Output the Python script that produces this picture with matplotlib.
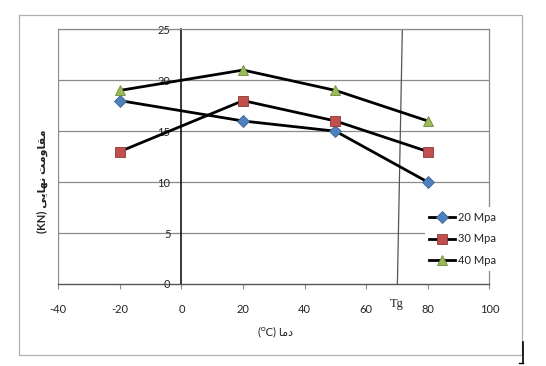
import matplotlib
matplotlib.use("Agg")
import matplotlib.pyplot as plt
from matplotlib.lines import Line2D
from matplotlib.patches import Rectangle

# ---- data ----
temps = [-20, 20, 50, 80]
s20 = [18, 16, 15, 10]
s30 = [13, 18, 16, 13]
s40 = [19, 21, 19, 16]
series_labels = ["20 Mpa", "30 Mpa", "40 Mpa"]
x_ticks = [-40, -20, 0, 20, 40, 60, 80, 100]
y_ticks = [0, 5, 10, 15, 20, 25]
tg_value = 70
tg_line_x = [71.7, 70.1]

# Persian text in visual order with presentation forms (matplotlib has no shaping)
ylabel_txt = "(KN) " + "\uFEF0\uFEF3\uFE8E\uFEEC\uFEE7" + " " + "\uFE96\uFEE3\uFEED\uFE8E\uFED8\uFEE3"
xlabel_txt = "(\u1D3CC) " + "\uFE8E\uFEE3\uFEA9"

plt.rcParams['font.family'] = ['Lato', 'DejaVu Sans']

W, H = 546, 366
fig = plt.figure(figsize=(W / 100, H / 100), dpi=100)
fig.patch.set_facecolor("white")

L, R, T, B = 58.3, 489.5, 29.3, 284.0
ax = fig.add_axes([L / W, 1 - B / H, (R - L) / W, (B - T) / H])
ax.set_xlim(-40, 100)
ax.set_ylim(0, 25)

grid_c = "#8a8a8a"
for v in y_ticks[1:]:
    ax.axhline(v, color=grid_c, lw=0.9, zorder=1)
ax.axvline(-40, color=grid_c, lw=0.9, zorder=1)

# y axis crossing at x = 0
ax.spines['left'].set_position(('data', 0))
ax.spines['left'].set_color("black")
ax.spines['left'].set_linewidth(1.1)
ax.spines['bottom'].set_color("#555555")
ax.spines['bottom'].set_linewidth(1.0)
ax.spines['top'].set_color(grid_c)
ax.spines['top'].set_linewidth(0.9)
ax.spines['right'].set_color(grid_c)
ax.spines['right'].set_linewidth(0.9)

ax.set_xticks(x_ticks)
ax.set_yticks(y_ticks)
ax.set_xticklabels([str(v) for v in x_ticks])
ax.set_yticklabels([str(v) for v in y_ticks])
ax.tick_params(axis='x', direction='out', length=3.5, width=0.8, color=grid_c,
               labelsize=8, pad=11, labelcolor="#222222")
ax.tick_params(axis='y', direction='out', length=0, labelsize=8, pad=8,
               labelcolor="#222222")

# Tg line
ax.plot(tg_line_x, [25, 0], color="#555555", lw=0.9, zorder=2)
ax.text(tg_value, -1.95, "Tg", ha='center', va='center', fontsize=9,
        family=['Liberation Serif'], color="#222222")

lw = 2.0
ax.plot(temps, s20, color="black", lw=lw, marker="D", ms=6,
        mfc="#4F81BD", mec="#3A6496", mew=0.6, label=series_labels[0], zorder=4)
ax.plot(temps, s30, color="black", lw=lw, marker="s", ms=6.5,
        mfc="#C0504D", mec="#8C3836", mew=0.6, label=series_labels[1], zorder=4)
ax.plot(temps, s40, color="black", lw=lw, marker="^", ms=7,
        mfc="#9BBB59", mec="#71893F", mew=0.6, label=series_labels[2], zorder=4)

leg = ax.legend(loc='center left', bbox_to_anchor=((425 - L) / (R - L), (B - 239) / (B - T)),
                frameon=True, facecolor="white", edgecolor="none", fancybox=False,
                fontsize=8, handlelength=2.3, handletextpad=0.25, labelspacing=0.95,
                borderpad=0.4, borderaxespad=0)
leg.get_frame().set_alpha(1)
for t in leg.get_texts():
    t.set_color("#222222")

# axis labels
fig.text(42 / W, 1 - 181 / H, ylabel_txt, rotation=90, ha='center', va='center',
         fontsize=8, fontweight='bold', color="#222222")
fig.text(275 / W, 1 - 332 / H, xlabel_txt, ha='center', va='center',
         fontsize=8, color="#222222")

# outer chart border
fig.add_artist(Rectangle((19 / W, 1 - 355 / H), (522 - 19) / W, (355 - 15) / H,
                         transform=fig.transFigure, fill=False, ec="#b0b0b0", lw=0.9))
# small bracket at bottom right
fig.add_artist(Line2D([523 / W, 523 / W], [1 - 342 / H, 1 - 363 / H],
                      transform=fig.transFigure, color="black", lw=1.2))
fig.add_artist(Line2D([519 / W, 523 / W], [1 - 363 / H, 1 - 363 / H],
                      transform=fig.transFigure, color="black", lw=1.0))

fig.savefig("out.png", dpi=100, facecolor="white")
